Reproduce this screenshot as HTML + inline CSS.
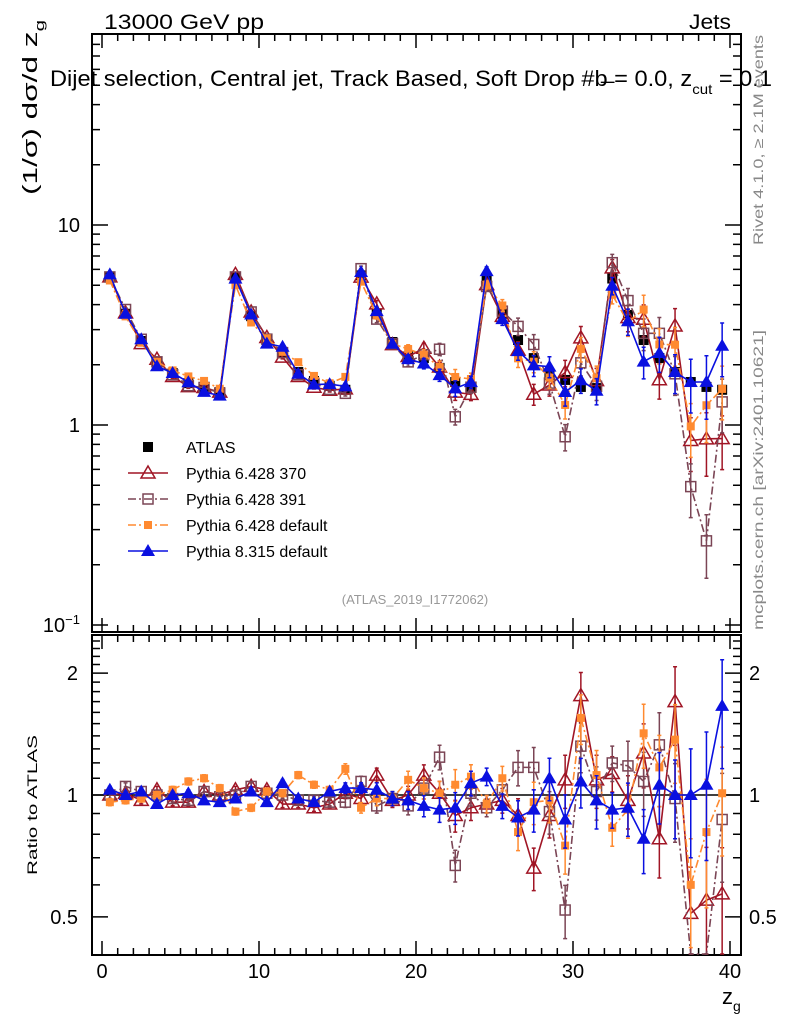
<!DOCTYPE html>
<html><head><meta charset="utf-8">
<style>
html,body{margin:0;padding:0;background:#fff;}
svg{display:block;font-family:"Liberation Sans",sans-serif;}
</style></head>
<body>
<svg id="chart" width="786" height="1024" viewBox="0 0 786 1024" xmlns="http://www.w3.org/2000/svg">
<rect x="0" y="0" width="786" height="1024" fill="#fff"/>
<text x="104" y="29" font-size="21" textLength="160" lengthAdjust="spacingAndGlyphs">13000 GeV pp</text>
<text x="731" y="29" font-size="21" text-anchor="end" textLength="42" lengthAdjust="spacingAndGlyphs">Jets</text>
<text x="50" y="86" font-size="22" textLength="722" lengthAdjust="spacingAndGlyphs">Dijet selection, Central jet, Track Based, Soft Drop #b̶ = 0.0, z<tspan font-size="14" dy="8">cut</tspan><tspan dy="-8"> = 0.1</tspan></text>
<text transform="translate(763,245) rotate(-90)" font-size="14" fill="#888" textLength="210" lengthAdjust="spacingAndGlyphs">Rivet 4.1.0, ≥ 2.1M events</text>
<text transform="translate(763,630) rotate(-90)" font-size="14" fill="#888" textLength="300" lengthAdjust="spacingAndGlyphs">mcplots.cern.ch [arXiv:2401.10621]</text>
<text transform="translate(37,195) rotate(-90)" font-size="20" textLength="175" lengthAdjust="spacingAndGlyphs">(1/σ) dσ/d z<tspan font-size="13" dy="7">g</tspan></text>
<text transform="translate(37,875) rotate(-90)" font-size="14" textLength="140" lengthAdjust="spacingAndGlyphs">Ratio to ATLAS</text>
<text x="722" y="1004" font-size="22">z<tspan font-size="14" dy="7">g</tspan></text>
<text x="415" y="604" font-size="13" fill="#999" text-anchor="middle">(ATLAS_2019_I1772062)</text>
<g id="axes"></g>
<g id="series"></g>
<g id="legend"></g>
</svg>
<script>
const bins = [0.5,1.5,2.5,3.5,4.5,5.5,6.5,7.5,8.5,9.5,10.5,11.5,12.5,13.5,14.5,15.5,16.5,17.5,18.5,19.5,20.5,21.5,22.5,23.5,24.5,25.5,26.5,27.5,28.5,29.5,30.5,31.5,32.5,33.5,34.5,35.5,36.5,37.5,38.5,39.5];
const atlas = [5.5,3.6,2.63,2.07,1.82,1.62,1.51,1.46,5.5,3.5,2.66,2.3,1.84,1.66,1.57,1.5,5.6,3.6,2.6,2.2,2.16,1.93,1.64,1.53,5.3,3.6,2.66,2.16,1.78,1.68,1.55,1.53,5.4,3.55,2.66,2.16,1.84,1.64,1.55,1.5];
const ratioP6_370 = [1.0,1.01,0.97,1.03,0.96,0.96,1.02,1.0,1.03,1.05,1.03,0.95,0.95,0.93,0.95,1.01,0.98,1.12,0.97,1.0,1.12,1.01,0.89,0.93,0.95,0.97,0.89,0.66,0.89,1.09,1.76,1.09,1.13,0.97,1.27,0.78,1.70,0.51,0.55,0.57];
const ratioP6_391 = [1.0,1.05,1.02,1.0,0.98,0.97,1.02,0.99,1.0,1.05,1.01,1.0,0.97,0.97,0.96,0.96,1.08,0.94,0.98,0.94,1.04,1.24,0.67,1.01,0.93,1.03,1.17,1.17,0.91,0.52,1.32,1.02,1.2,1.18,1.08,1.33,0.98,0.30,0.17,0.87];
const ratioP6_def = [0.96,0.97,0.98,1.0,1.03,1.08,1.10,1.04,0.91,0.93,1.02,1.01,1.12,1.06,1.03,1.16,0.93,0.98,0.98,1.09,1.04,1.01,1.06,1.11,0.95,1.10,0.81,0.96,0.97,0.75,1.55,1.12,0.83,0.92,1.42,1.17,1.37,0.60,0.81,1.01];
const ratioP8 = [1.03,1.0,1.02,0.95,1.0,1.01,0.97,0.96,0.98,1.02,0.96,1.07,0.98,0.96,1.02,1.04,1.04,1.03,0.98,0.97,0.94,0.92,0.93,1.07,1.11,0.94,0.88,0.92,1.10,0.87,1.08,0.97,0.92,0.93,0.78,1.06,1.0,1.0,1.06,1.66];
const mcRelErr = [0.02,0.02,0.02,0.02,0.02,0.02,0.02,0.02,0.02,0.02,0.02,0.02,0.02,0.02,0.02,0.03,0.03,0.04,0.04,0.05,0.06,0.07,0.09,0.07,0.05,0.07,0.1,0.12,0.12,0.15,0.14,0.15,0.1,0.15,0.18,0.2,0.22,0.3,0.35,0.3];
const xTickLabels = [0,10,20,30,40];
const yTickLabels = [10,1,0.1];
const ratioTickLabels = [2,1,0.5];

const NS="http://www.w3.org/2000/svg";
const L=92,R=741,MT=34,MB=632,RT=635,RB=955;
const xs=v=>102+15.7*v;
const ym=v=>425-200*Math.log10(v);
const yr=v=>795-405*Math.log10(v);
function mk(tag,attrs,parent){const e=document.createElementNS(NS,tag);for(const k in attrs)e.setAttribute(k,attrs[k]);parent.appendChild(e);return e;}
const axes=document.getElementById('axes');
const ser=document.getElementById('series');
const leg=document.getElementById('legend');

let f1=mk('rect',{x:L,y:MT,width:R-L,height:MB-MT,fill:'none',stroke:'#000','stroke-width':2},axes);


let f2=mk('rect',{x:L,y:RT,width:R-L,height:RB-RT,fill:'none',stroke:'#000','stroke-width':2},axes);


let one=mk('line',{x1:L,x2:R,y1:yr(1),y2:yr(1),stroke:'#000','stroke-width':1.5},axes);



let tp='';
for(let v=0;v<=40;v++){
  const x=xs(v);const maj=v%10===0;const len=maj?14:7;
  tp+=`M${x},${MB}v-${len}M${x},${MT}v${len}M${x},${RB}v-${len}M${x},${RT}v${len}`;
}
for(let d=-1;d<=1;d++){for(let m=1;m<=9;m++){const v=m*Math.pow(10,d);const y=ym(v);if(y<MT||y>MB)continue;const len=m===1?16:8;tp+=`M${L},${y}h${len}M${R},${y}h-${len}`;}}
for(let v=0.4;v<=2.5;v+=0.1){const y=yr(v);if(y<RT||y>RB)continue;const maj=Math.abs(v-0.5)<1e-6||Math.abs(v-1)<1e-6||Math.abs(v-2)<1e-6;const len=maj?16:8;tp+=`M${L},${y}h${len}M${R},${y}h-${len}`;}
let tk=mk('path',{d:tp,stroke:'#000','stroke-width':1.5,fill:'none'},axes);



xTickLabels.forEach(v=>{
  const t=mk('text',{x:xs(v),y:978,'font-size':20,'text-anchor':'middle'},axes);t.textContent=v;
  
  
});
yTickLabels.forEach(v=>{
  const t=mk('text',{x:80,y:ym(v)+7,'font-size':20,'text-anchor':'end'},axes);
  if(v===0.1){t.innerHTML='10<tspan font-size="13" dy="-8">−1</tspan>';}else t.textContent=v;
  
  
});
ratioTickLabels.forEach(v=>{
  const t=mk('text',{x:78,y:yr(v)+7,'font-size':20,'text-anchor':'end'},axes);t.textContent=v;
  
  
  const t2=mk('text',{x:749,y:yr(v)+7,'font-size':20},axes);t2.textContent=v;
  
  
});

function marker(g,kind,x,y,color){
  let e;
  if(kind==='sqfill'){e=mk('rect',{x:x-5,y:y-5,width:10,height:10,fill:color},g);}
  else if(kind==='sqsmall'){e=mk('rect',{x:x-4,y:y-4,width:8,height:8,fill:color},g);}
  else if(kind==='sqopen'){e=mk('rect',{x:x-5,y:y-5,width:10,height:10,fill:'none',stroke:color,'stroke-width':1.5},g);}
  else if(kind==='triopen'){e=mk('path',{d:`M${x},${y-7}L${x+7},${y+5}L${x-7},${y+5}Z`,fill:'none',stroke:color,'stroke-width':1.5},g);}
  else {e=mk('path',{d:`M${x},${y-7}L${x+7},${y+5}L${x-7},${y+5}Z`,fill:color},g);}
  return e;
}
const clipR=y=>Math.max(RT+1,Math.min(RB-1,y));
const clipM=y=>Math.max(MT+1,Math.min(MB-1,y));

// ATLAS data first (underneath)
const ga=mk('g',{},ser);


bins.forEach((b,i)=>{
  const m=marker(ga,'sqfill',xs(b),ym(atlas[i]),'#000');
  
  
});

const series=[
  {name:'pythia-6428-370',label:'Pythia 6.428 370',r:ratioP6_370,color:'#a01525',kind:'triopen',dash:''},
  {name:'pythia-6428-391',label:'Pythia 6.428 391',r:ratioP6_391,color:'#7b4555',kind:'sqopen',dash:'8,3,2,3'},
  {name:'pythia-6428-default',label:'Pythia 6.428 default',r:ratioP6_def,color:'#ff8a30',kind:'sqsmall',dash:'8,3,2,3'},
  {name:'pythia-8315-default',label:'Pythia 8.315 default',r:ratioP8,color:'#0a10e0',kind:'trifill',dash:''}
];

series.forEach(s=>{
  const g=mk('g',{},ser);
  
  
  const vals=bins.map((b,i)=>atlas[i]*s.r[i]);
  const mp=bins.map((b,i)=>`${i?'L':'M'}${xs(b)},${clipM(ym(vals[i]))}`).join('');
  const rp=bins.map((b,i)=>`${i?'L':'M'}${xs(b)},${clipR(yr(s.r[i]))}`).join('');
  const la={fill:'none',stroke:s.color,'stroke-width':1.6};if(s.dash)la['stroke-dasharray']=s.dash;
  const l1=mk('path',Object.assign({d:mp},la),g);
  
  
  const l2=mk('path',Object.assign({d:rp},la),g);
  
  
  let ep='';
  bins.forEach((b,i)=>{
    const x=xs(b),e=mcRelErr[i];
    const v=vals[i];
    ep+=`M${x},${clipM(ym(v*(1+e)))}V${clipM(ym(Math.max(v*(1-e),1e-3)))}M${x-2},${clipM(ym(v*(1+e)))}h4M${x-2},${clipM(ym(Math.max(v*(1-e),1e-3)))}h4`;
    const r=s.r[i];
    ep+=`M${x},${clipR(yr(r*(1+e)))}V${clipR(yr(Math.max(r*(1-e),1e-3)))}M${x-2},${clipR(yr(r*(1+e)))}h4M${x-2},${clipR(yr(Math.max(r*(1-e),1e-3)))}h4`;
  });
  const eb=mk('path',{d:ep,stroke:s.color,'stroke-width':1.5,fill:'none'},g);
  
  
  bins.forEach((b,i)=>{
    const ym1=ym(vals[i]);
    if(ym1>MT&&ym1<MB){const m=marker(g,s.kind,xs(b),ym1,s.color);
      
      }
    const yr1=yr(s.r[i]);
    if(yr1>RT&&yr1<RB){const m=marker(g,s.kind,xs(b),yr1,s.color);
      
      }
  });
});

const lg=[{label:'ATLAS',color:'#000',kind:'sqfill',dash:null,line:false}].concat(series.map(s=>({label:s.label,color:s.color,kind:s.kind,dash:s.dash,line:true})));
lg.forEach((e,i)=>{
  const y=447+26*i;
  const g=mk('g',{},leg);
  
  
  if(e.line){const a={x1:128,x2:168,y1:y,y2:y,stroke:e.color,'stroke-width':1.6};if(e.dash)a['stroke-dasharray']=e.dash;mk('line',a,g);}
  marker(g,e.kind,148,y,e.color);
  const t=mk('text',{x:186,y:y+6,'font-size':16},g);t.textContent=e.label;
});
</script>
</body></html>
